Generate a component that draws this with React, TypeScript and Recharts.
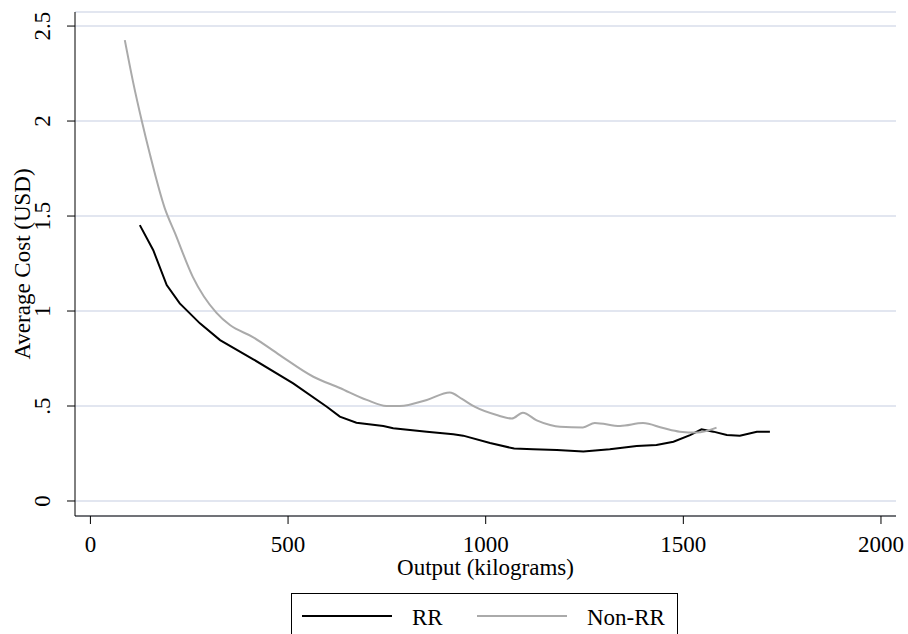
import { LineChart, Line, XAxis, YAxis, CartesianGrid, Legend } from 'recharts'

const rrOutput = [125, 159, 193, 226, 277, 328, 412, 513, 598, 631, 673, 741, 766, 851, 918, 943, 1011, 1072, 1120, 1180, 1247, 1314, 1382, 1432, 1475, 1517, 1546, 1576, 1610, 1643, 1686, 1719]
const rrCost = [1.452, 1.32, 1.137, 1.04, 0.935, 0.847, 0.746, 0.619, 0.496, 0.444, 0.412, 0.395, 0.383, 0.365, 0.351, 0.344, 0.305, 0.276, 0.273, 0.268, 0.261, 0.272, 0.29, 0.295, 0.312, 0.347, 0.377, 0.365, 0.347, 0.344, 0.365, 0.365]

const nonRrOutput = [87, 108, 130, 151, 188, 214, 259, 319, 353, 411, 479, 564, 631, 699, 749, 783, 851, 909, 940, 973, 1032, 1066, 1094, 1129, 1163, 1188, 1246, 1276, 1340, 1398, 1449, 1491, 1534, 1584]
const nonRrCost = [2.426, 2.205, 2.0, 1.821, 1.542, 1.41, 1.18, 0.99, 0.926, 0.863, 0.768, 0.654, 0.595, 0.532, 0.5, 0.5, 0.532, 0.571, 0.537, 0.495, 0.45, 0.434, 0.465, 0.424, 0.4, 0.391, 0.387, 0.411, 0.395, 0.41, 0.384, 0.365, 0.36, 0.386]

const xTicks = [0, 500, 1000, 1500, 2000]
const yTicks = [0, 0.5, 1, 1.5, 2, 2.5]
const yTickLabels = ['0', '.5', '1', '1.5', '2', '2.5']

const seriesNames = ['RR', 'Non-RR']

const rrData = rrOutput.map((x, i) => ({ output: x, cost: rrCost[i] }))
const nonRrData = nonRrOutput.map((x, i) => ({ output: x, cost: nonRrCost[i] }))

const FONT = 'Liberation Serif, serif'
const FS = 23
const textStyle = { fontFamily: FONT, fontSize: FS }

function YTick({ y, payload }: any) {
  const idx = yTicks.indexOf(payload.value)
  return (
    <text transform={`translate(50, ${y}) rotate(-90)`} textAnchor="middle" fill="#000" style={textStyle}>
      {yTickLabels[idx]}
    </text>
  )
}

function YTitle({ viewBox }: any) {
  const cy = viewBox.y + viewBox.height / 2
  return (
    <text transform={`translate(30, ${cy}) rotate(-90)`} textAnchor="middle" fill="#000" style={textStyle}>
      Average Cost (USD)
    </text>
  )
}

function LegendBox() {
  return (
    <div style={{ width: 387, height: 60, border: '1px solid #000', boxSizing: 'border-box', background: '#fff' }}>
      <svg width={385} height={58} style={{ display: 'block' }}>
        <line x1={10} x2={100} y1={22} y2={22} stroke="#000" strokeWidth={2} />
        <text x={120} y={31} fill="#000" style={textStyle}>{seriesNames[0]}</text>
        <line x1={185} x2={275} y1={22} y2={22} stroke="#aaaaaa" strokeWidth={2} />
        <text x={295} y={31} fill="#000" style={textStyle}>{seriesNames[1]}</text>
      </svg>
    </div>
  )
}

export default function App() {
  return (
    <div style={{ position: 'absolute', left: 0, top: 0, width: 908, height: 634, background: '#fff', fontFamily: FONT, overflow: 'hidden' }}>
      <LineChart width={908} height={634} margin={{ top: 12, right: 12, left: 0, bottom: 88 }} style={{ fontFamily: FONT }}>
        <CartesianGrid vertical={false} stroke="#e2e6f0" strokeWidth={2} />
        <XAxis
          type="number"
          dataKey="output"
          domain={[-39, 2038]}
          allowDataOverflow
          ticks={xTicks}
          height={30}
          tickSize={8}
          tickMargin={12}
          stroke="#000"
          tick={{ fill: '#000', style: textStyle }}
          label={{ value: 'Output (kilograms)', position: 'bottom', offset: 13, fill: '#000', style: textStyle }}
        />
        <YAxis
          type="number"
          dataKey="cost"
          domain={[-0.079, 2.574]}
          allowDataOverflow
          ticks={yTicks}
          width={75}
          tickSize={8}
          stroke="#000"
          tick={<YTick />}
          label={{ content: <YTitle /> }}
        />
        <Legend
          layout="vertical"
          align="center"
          verticalAlign="middle"
          wrapperStyle={{ position: 'absolute', left: 291, top: 593, width: 387 }}
          content={<LegendBox />}
        />
        <Line
          data={rrData}
          dataKey="cost"
          name={seriesNames[0]}
          type="linear"
          stroke="#000"
          strokeWidth={2}
          dot={false}
          isAnimationActive={false}
        />
        <Line
          data={nonRrData}
          dataKey="cost"
          name={seriesNames[1]}
          type="monotone"
          stroke="#aaaaaa"
          strokeWidth={2}
          dot={false}
          isAnimationActive={false}
        />
      </LineChart>
    </div>
  )
}
